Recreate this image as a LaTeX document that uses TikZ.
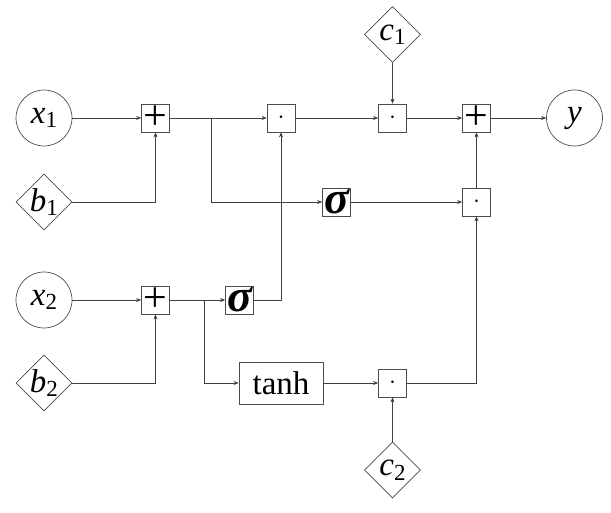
\documentclass[tikz,border=0pt]{standalone}
\usepackage{fontspec}
\setmainfont{Liberation Serif}
\usetikzlibrary{arrows.meta,shapes.geometric}
\newcommand{\vsub}[2]{\textit{#1}\raisebox{-4.5pt}{\fontsize{23}{23}\selectfont #2}}
\tikzset{
  base/.style={draw=black!70, line width=0.7pt, inner sep=0pt, font=\fontsize{33}{34}\selectfont},
  varnode/.style={base, circle, minimum size=56pt},
  parnode/.style={base, diamond, minimum width=56pt, minimum height=56pt},
  opbox/.style={base, rectangle, minimum width=28pt, minimum height=28pt},
  funbox/.style={base, rectangle, minimum width=84pt, minimum height=42pt, font=\fontsize{33}{34}\selectfont},
  conn/.style={draw=black!75, line width=0.6pt, -{Stealth[length=5pt,width=4pt]}},
}
\newcommand{\plussym}{\raisebox{-3pt}{\fontsize{42}{42}\selectfont +}}
\newcommand{\dotsym}{\fontsize{30}{30}\selectfont $\cdot$}
\newcommand{\sigsym}{\raisebox{-6pt}{\fontsize{46}{46}\selectfont\bfseries\itshape σ}}
\begin{document}
\begin{tikzpicture}[x=1pt,y=-1pt]
\useasboundingbox (0,0) rectangle (611,513);
% inputs
\node[varnode] (x1) at (44,118) {\vsub{x}{1}};
\node[parnode] (b1) at (44,202) {\vsub{b}{1}};
\node[varnode] (x2) at (44,300) {\vsub{x}{2}};
\node[parnode] (b2) at (44,383) {\vsub{b}{2}};
\node[parnode] (c1) at (392.5,34.5) {\vsub{c}{1}};
\node[parnode] (c2) at (392.5,470) {\vsub{c}{2}};
\node[varnode] (y) at (574.5,118) {\textit{y}};
% operators
\node[opbox] (p1) at (155.5,118) {\plussym};
\node[opbox] (d1) at (281,118) {\dotsym};
\node[opbox] (d2) at (392.5,118) {\dotsym};
\node[opbox] (p2) at (476.5,118) {\plussym};
\node[opbox] (s1) at (336.5,202) {\sigsym};
\node[opbox] (d3) at (476.5,202) {\dotsym};
\node[opbox] (p3) at (155.5,300) {\plussym};
\node[opbox] (s2) at (239.5,300) {\sigsym};
\node[funbox] (th) at (281,383) {tanh};
\node[opbox] (d4) at (392.5,383) {\dotsym};
% branch points
\coordinate (br1) at (211,118);
\coordinate (br2) at (204,300);
% connectors
\draw[conn] (x1) -- (p1);
\draw[conn] (b1) -| (p1);
\draw[conn] (p1) -- (d1);
\draw[conn] (br1) |- (s1);
\draw[conn] (d1) -- (d2);
\draw[conn] (c1) -- (d2);
\draw[conn] (d2) -- (p2);
\draw[conn] (p2) -- (y);
\draw[conn] (s1) -- (d3);
\draw[conn] (d3) -- (p2);
\draw[conn] (x2) -- (p3);
\draw[conn] (b2) -| (p3);
\draw[conn] (p3) -- (s2);
\draw[conn] (br2) |- (th);
\draw[conn] (s2) -| (d1);
\draw[conn] (th) -- (d4);
\draw[conn] (c2) -- (d4);
\draw[conn] (d4) -| (d3);
\end{tikzpicture}
\end{document}
